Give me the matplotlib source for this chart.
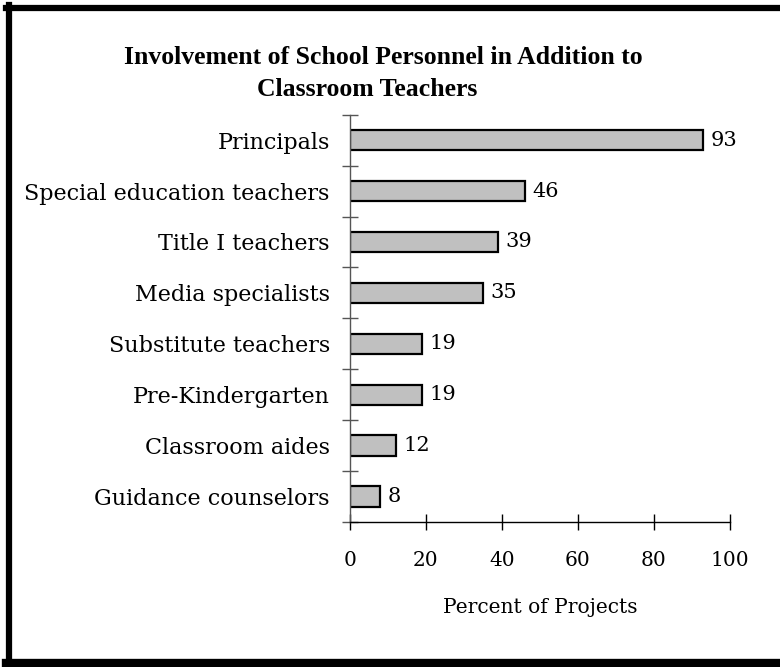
import matplotlib
matplotlib.use("Agg")
import matplotlib.pyplot as plt
from matplotlib.lines import Line2D
import numpy as np

categories = ["Principals", "Special education teachers", "Title I teachers",
              "Media specialists", "Substitute teachers", "Pre-Kindergarten",
              "Classroom aides", "Guidance counselors"]
values = [93, 46, 39, 35, 19, 19, 12, 8]
xticks = [0, 20, 40, 60, 80, 100]
title1 = "Involvement of School Personnel in Addition to"
title2 = "Classroom Teachers"
xlabel = "Percent of Projects"

W, H = 780, 667
fig = plt.figure(figsize=(W/100, H/100), dpi=100)
ax = fig.add_axes([350/W, 1-522/H, 380/W, (522-114.7)/H])

font = "DejaVu Serif"
fs = 14.5
y = np.arange(len(categories))
ax.barh(y, values, height=0.4, color="#c0c0c0", edgecolor="black", linewidth=1.6)
ax.set_xlim(0, 100)
ax.set_ylim(len(categories)-0.5, -0.5)
ax.set_yticks(y)
ax.set_yticklabels(categories, fontfamily=font, fontsize=16)
ax.set_yticks(np.arange(len(categories)+1)-0.5, minor=True)
ax.tick_params(axis="y", which="major", length=0, pad=14.5)
ax.tick_params(axis="y", which="minor", length=12, direction="inout", width=1, color="#555555")
ax.set_xticks(xticks)
ax.set_xticklabels([str(t) for t in xticks], fontfamily=font, fontsize=fs)
ax.tick_params(axis="x", length=12, direction="inout", width=1, pad=15)
for s in ["top", "right"]:
    ax.spines[s].set_visible(False)
ax.spines["left"].set_color("#555555")
ax.spines["left"].set_linewidth(1)
ax.spines["bottom"].set_linewidth(1)
ax.set_xlabel(xlabel, fontfamily=font, fontsize=fs, labelpad=20)

for yi, v in zip(y, values):
    ax.text(v + 2.0, yi, str(v), va="center", ha="left", fontfamily=font, fontsize=15)

fig.text(383/W, 1-64/H, title1, ha="center", va="baseline", fontfamily="Liberation Serif",
         fontweight="bold", fontsize=18.5)
fig.text(367/W, 1-96/H, title2, ha="center", va="baseline", fontfamily="Liberation Serif",
         fontweight="bold", fontsize=18.5)

# outer frame
fig.add_artist(Line2D([6/W, 1.0], [1-8/H, 1-8/H], color="black", lw=4.5, transform=fig.transFigure))
fig.add_artist(Line2D([9/W, 9/W], [1-5/H, 1-667/H], color="black", lw=4.5, transform=fig.transFigure))
fig.add_artist(Line2D([6/W, 1.0], [1-663/H, 1-663/H], color="black", lw=6, transform=fig.transFigure))

fig.savefig("out.png", dpi=100)
